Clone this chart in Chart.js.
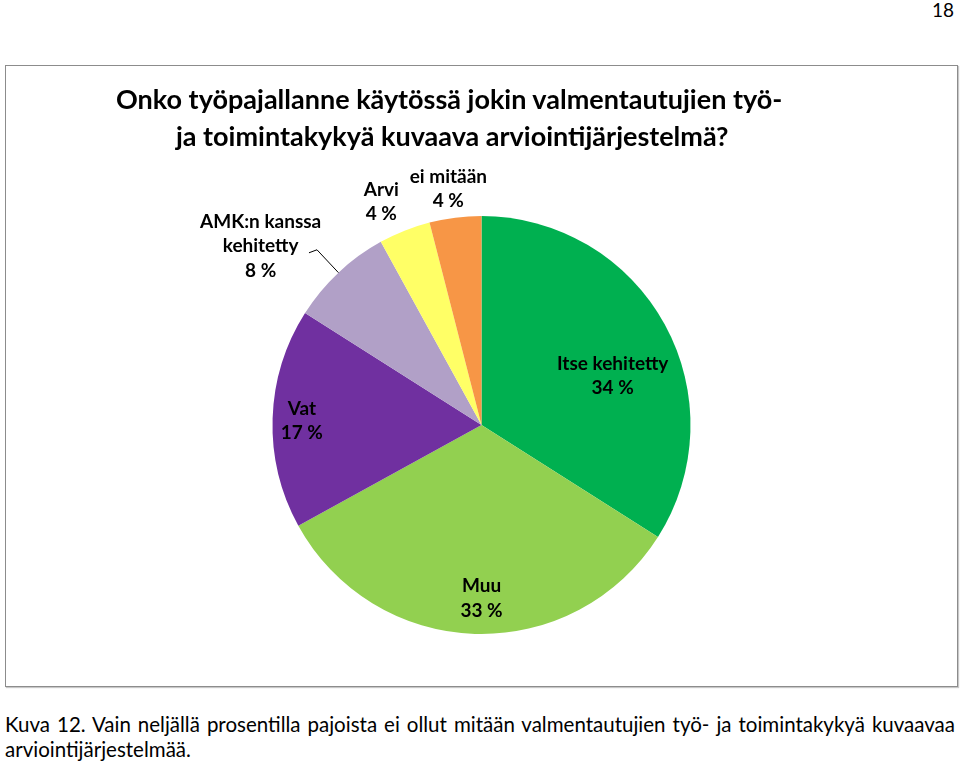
<!DOCTYPE html>
<html>
<head>
<meta charset="utf-8">
<script src="https://cdn.jsdelivr.net/npm/chart.js@4.4.1/dist/chart.umd.min.js"></script>
<style>
  html, body { margin: 0; padding: 0; background: #fff; }
  body { width: 960px; height: 763px; position: relative; overflow: hidden; font-family: Lato, "Liberation Sans", sans-serif; color: #000; }
  .pageno { position: absolute; right: 6px; top: -2px; font-size: 19px; }
  .frame { position: absolute; left: 5px; top: 65px; width: 951px; height: 620px; border: 1px solid #8c8c8c; box-shadow: 1px 1px 1px #c8c8c8; }
  .title { position: absolute; left: 0; width: 951px; font-weight: bold; font-size: 27px; white-space: nowrap; }
  canvas { position: absolute; left: 0; top: 0; }
  .caption { position: absolute; left: 5px; top: 712px; width: 950px; font-size: 20.5px; line-height: 25px; text-align: justify; text-align-last: left; }
</style>
</head>
<body>
<div class="pageno">18</div>
<div class="frame">
  <canvas id="pie" width="951" height="620"></canvas>
  <div class="title" style="top:16px; padding-left:110px;">Onko työpajallanne käytössä jokin valmentautujien työ-</div>
  <div class="title" style="top:53px; padding-left:170px;">ja toimintakykyä kuvaava arviointijärjestelmä?</div>
</div>
<div class="caption">Kuva 12. Vain neljällä prosentilla pajoista ei ollut mitään valmentautujien työ- ja toimintakykyä kuvaavaa arviointijärjestelmää.</div>
<script>
// Data (percent of workshops)
const categories = ['Itse kehitetty', 'Muu', 'Vat', 'AMK:n kanssa kehitetty', 'Arvi', 'ei mitään']
const labelLines = [['Itse kehitetty'], ['Muu'], ['Vat'], ['AMK:n kanssa', 'kehitetty'], ['Arvi'], ['ei mitään']]
const values = [34, 33, 17, 8, 4, 4]
const colors = ['#00B050', '#92D050', '#7030A0', '#B1A0C7', '#FFFF66', '#F79646']

// Label placement relative to each slice: distance as fraction of radius,
// and angle shift (degrees) from the slice's middle angle.
const labelDist = [0.67, 0.83, 0.86, 1.36, 1.17, 1.14]
const labelShift = [8.3, -1.8, -0.5, -7.8, -2.6, -0.8]
const leaderLine = [false, false, false, true, false, false]

const sliceLabels = {
  id: 'sliceLabels',
  afterDatasetsDraw(chart) {
    const ctx = chart.ctx
    const meta = chart.getDatasetMeta(0)
    ctx.save()
    ctx.font = 'bold 19px Lato, "Liberation Sans", sans-serif'
    ctx.fillStyle = '#000'
    ctx.textAlign = 'center'
    ctx.textBaseline = 'middle'
    meta.data.forEach((arc, i) => {
      const mid = (arc.startAngle + arc.endAngle) / 2
      const a = mid + labelShift[i] * Math.PI / 180
      const r = arc.outerRadius * labelDist[i]
      const cx = arc.x + Math.cos(a) * r
      const cy = arc.y + Math.sin(a) * r
      const lines = labelLines[i].concat([values[i] + ' %'])
      const lh = 24.5
      const y0 = cy - (lines.length - 1) * lh / 2
      lines.forEach((t, k) => ctx.fillText(t, cx, y0 + k * lh))

      if (leaderLine[i]) {
        const ex = arc.x + Math.cos(mid) * arc.outerRadius
        const ey = arc.y + Math.sin(mid) * arc.outerRadius
        const bx = arc.x + Math.cos(mid) * arc.outerRadius * 1.15
        const by = arc.y + Math.sin(mid) * arc.outerRadius * 1.15
        ctx.beginPath()
        ctx.strokeStyle = '#000'
        ctx.lineWidth = 1
        ctx.moveTo(ex, ey)
        ctx.lineTo(bx, by)
        ctx.lineTo(bx - 8, by + 3)
        ctx.stroke()
      }
    })
    ctx.restore()
  }
}

new Chart(document.getElementById('pie'), {
  type: 'pie',
  data: {
    labels: categories,
    datasets: [{
      data: values,
      backgroundColor: colors,
      borderWidth: 0,
      hoverOffset: 0,
      offset: 0,
    }],
  },
  options: {
    responsive: false,
    animation: false,
    events: [],
    layout: { padding: { top: 150, bottom: 52, left: 0, right: 0 } },
    plugins: {
      legend: { display: false },
      title: { display: false },
      tooltip: { enabled: false },
    },
  },
  plugins: [sliceLabels],
})
</script>
</body>
</html>
